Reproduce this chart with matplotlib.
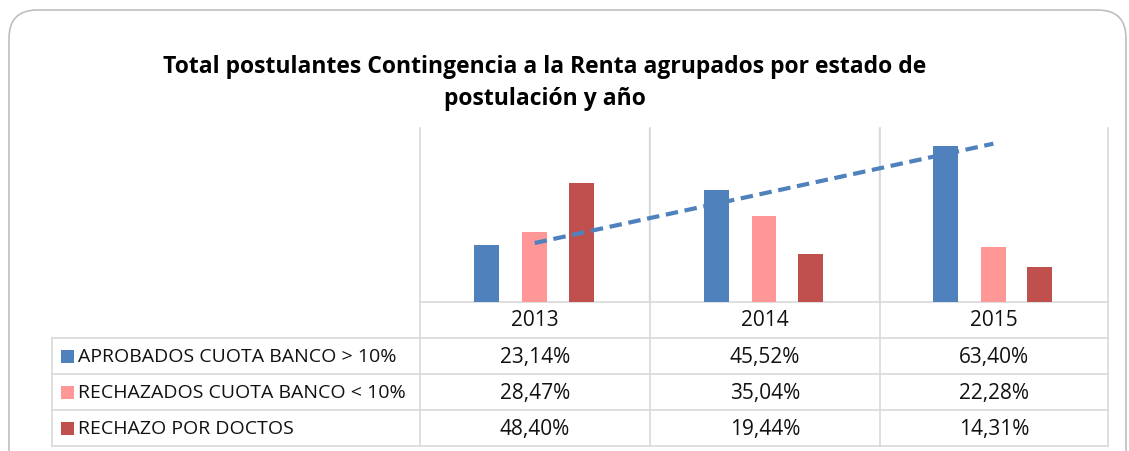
import numpy as np
import matplotlib.pyplot as plt
from matplotlib.patches import FancyBboxPatch, Rectangle

years = ['2013', '2014', '2015']
series_names = ['APROBADOS CUOTA BANCO > 10%',
                'RECHAZADOS CUOTA BANCO < 10%',
                'RECHAZO POR DOCTOS']
aprobados = [23.14, 45.52, 63.40]
rechazados = [28.47, 35.04, 22.28]
rechazo_doctos = [48.40, 19.44, 14.31]
series = [aprobados, rechazados, rechazo_doctos]
colors = ['#4F81BD', '#FF9797', '#C0504D']

W, H = 1129, 451
fig = plt.figure(figsize=(W / 100, H / 100), dpi=100)
fig.patch.set_facecolor('white')

def fx(px):
    return px / W

def fy(py):
    return 1 - py / H

grid_c = '#D9D9D9'
txt_font = ['Open Sans', 'DejaVu Sans']

# rounded outer frame (runs off the bottom like the screenshot)
frame = FancyBboxPatch((fx(9), fy(480)), fx(1117), fy(10) - fy(480),
                       boxstyle='round,pad=0,rounding_size=0.025',
                       transform=fig.transFigure, facecolor='none',
                       edgecolor='#BFBFBF', linewidth=1.2, mutation_aspect=W / H,
                       zorder=-5)
fig.patches.append(frame)

# title
fig.text(fx(545), fy(67), 'Total postulantes Contingencia a la Renta agrupados por estado de',
         ha='center', va='center', fontsize=16.5, fontweight='bold', family=txt_font)
fig.text(fx(545), fy(99), 'postulación y año', ha='center', va='center',
         fontsize=16.5, fontweight='bold', family=txt_font)

# bar plot area
x0, x1, ytop, ybase = 420, 1108, 128, 302
ax = fig.add_axes([fx(x0), fy(ybase), fx(x1 - x0), fy(ytop) - fy(ybase)])
ax.set_xlim(-0.5, 2.5)
ax.set_ylim(0, 70.5)
x = np.arange(len(years))
bw = 0.109
offs = [-0.208, 0.0, 0.203]
for vals, c, o in zip(series, colors, offs):
    ax.bar(x + o, vals, width=bw, color=c, zorder=3)

# linear trend of the approved series
k, b = np.polyfit(x, aprobados, 1)
ax.plot(x, k * x + b, color='#4F81BD', linestyle=(0, (3, 1.6)), linewidth=3, zorder=4)

for v in [0.5, 1.5]:
    ax.axvline(v, color=grid_c, linewidth=1, zorder=1)
for s in ax.spines.values():
    s.set_visible(False)
ax.set_xticks([])
ax.set_yticks([])
ax.patch.set_alpha(0)

# data table drawn in pixel coordinates
tab = fig.add_axes([0, 0, 1, 1], zorder=-1)
tab.set_xlim(0, W)
tab.set_ylim(H, 0)
tab.axis('off')
tab.patch.set_alpha(0)

col_x = [420, 650, 880, 1108]
row_y = [302, 338, 374, 410, 446]
lx = 52
for cx in col_x:
    tab.plot([cx, cx], [ytop, row_y[-1]], color=grid_c, lw=1.2)
tab.plot([lx, lx], [row_y[1], row_y[-1]], color=grid_c, lw=1.2)
tab.plot([col_x[0], col_x[-1]], [row_y[0], row_y[0]], color=grid_c, lw=1.2)
for ry in row_y[1:]:
    tab.plot([lx, col_x[-1]], [ry, ry], color=grid_c, lw=1.2)

num_fs = 15
lab_fs = 14
for j, yr in enumerate(years):
    cx = (col_x[j] + col_x[j + 1]) / 2
    tab.text(cx, (row_y[0] + row_y[1]) / 2 + 1, yr, ha='center', va='center',
             fontsize=num_fs, family=txt_font, color='#111111')

for i, (name, vals, c) in enumerate(zip(series_names, series, colors)):
    cy = (row_y[i + 1] + row_y[i + 2]) / 2
    tab.add_patch(Rectangle((61, cy - 6.5), 13, 13, facecolor=c, edgecolor='none'))
    tab.text(78, cy + 1, name, ha='left', va='center', fontsize=lab_fs,
             family=txt_font, color='#111111')
    for j, v in enumerate(vals):
        cx = (col_x[j] + col_x[j + 1]) / 2
        tab.text(cx, cy + 1, f'{v:.2f}%'.replace('.', ','), ha='center', va='center',
                 fontsize=num_fs, family=txt_font, color='#111111')

fig.savefig('out.png', dpi=100)
